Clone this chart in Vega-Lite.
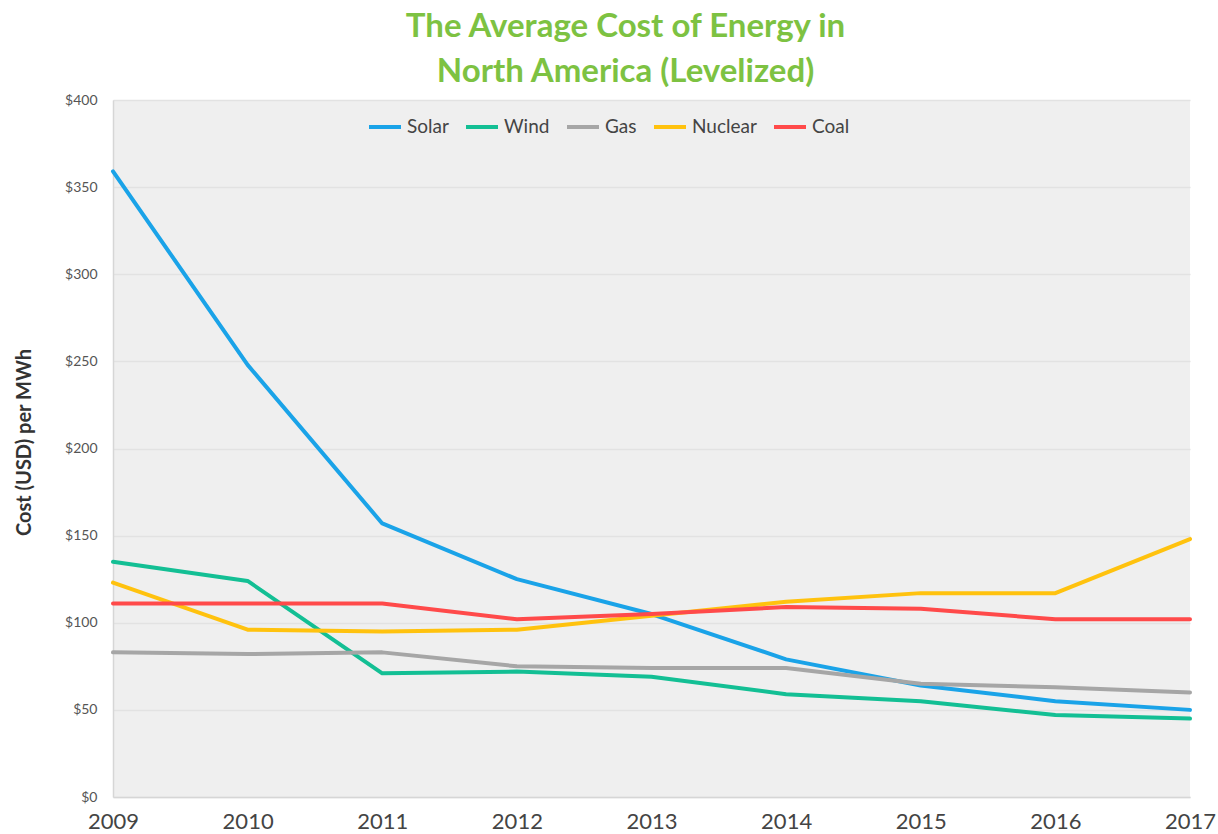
{
  "$schema": "https://vega.github.io/schema/vega-lite/v6.json",
  "width": 1077,
  "height": 697,
  "autosize": {"type": "none"},
  "padding": {"left": 113, "top": 100, "right": 28, "bottom": 37},
  "background": "white",
  "config": {
    "view": {"fill": "#efefef", "stroke": null},
    "font": "Lato"
  },
  "title": {
    "text": ["The Average Cost of Energy in", "North America (Levelized)"],
    "color": "#7dc242",
    "font": "Lato",
    "fontSize": 33,
    "fontWeight": "bold",
    "lineHeight": 45,
    "anchor": "middle",
    "dx": -26,
    "offset": 4
  },
  "data": {
    "values": [
      {"year": 2009, "source": "Solar", "cost": 359},
      {"year": 2010, "source": "Solar", "cost": 248},
      {"year": 2011, "source": "Solar", "cost": 157},
      {"year": 2012, "source": "Solar", "cost": 125},
      {"year": 2013, "source": "Solar", "cost": 105},
      {"year": 2014, "source": "Solar", "cost": 79},
      {"year": 2015, "source": "Solar", "cost": 64},
      {"year": 2016, "source": "Solar", "cost": 55},
      {"year": 2017, "source": "Solar", "cost": 50},
      {"year": 2009, "source": "Wind", "cost": 135},
      {"year": 2010, "source": "Wind", "cost": 124},
      {"year": 2011, "source": "Wind", "cost": 71},
      {"year": 2012, "source": "Wind", "cost": 72},
      {"year": 2013, "source": "Wind", "cost": 69},
      {"year": 2014, "source": "Wind", "cost": 59},
      {"year": 2015, "source": "Wind", "cost": 55},
      {"year": 2016, "source": "Wind", "cost": 47},
      {"year": 2017, "source": "Wind", "cost": 45},
      {"year": 2009, "source": "Gas", "cost": 83},
      {"year": 2010, "source": "Gas", "cost": 82},
      {"year": 2011, "source": "Gas", "cost": 83},
      {"year": 2012, "source": "Gas", "cost": 75},
      {"year": 2013, "source": "Gas", "cost": 74},
      {"year": 2014, "source": "Gas", "cost": 74},
      {"year": 2015, "source": "Gas", "cost": 65},
      {"year": 2016, "source": "Gas", "cost": 63},
      {"year": 2017, "source": "Gas", "cost": 60},
      {"year": 2009, "source": "Nuclear", "cost": 123},
      {"year": 2010, "source": "Nuclear", "cost": 96},
      {"year": 2011, "source": "Nuclear", "cost": 95},
      {"year": 2012, "source": "Nuclear", "cost": 96},
      {"year": 2013, "source": "Nuclear", "cost": 104},
      {"year": 2014, "source": "Nuclear", "cost": 112},
      {"year": 2015, "source": "Nuclear", "cost": 117},
      {"year": 2016, "source": "Nuclear", "cost": 117},
      {"year": 2017, "source": "Nuclear", "cost": 148},
      {"year": 2009, "source": "Coal", "cost": 111},
      {"year": 2010, "source": "Coal", "cost": 111},
      {"year": 2011, "source": "Coal", "cost": 111},
      {"year": 2012, "source": "Coal", "cost": 102},
      {"year": 2013, "source": "Coal", "cost": 105},
      {"year": 2014, "source": "Coal", "cost": 109},
      {"year": 2015, "source": "Coal", "cost": 108},
      {"year": 2016, "source": "Coal", "cost": 102},
      {"year": 2017, "source": "Coal", "cost": 102}
    ]
  },
  "mark": {"type": "line", "strokeCap": "round", "strokeJoin": "round"},
  "encoding": {
    "x": {
      "field": "year",
      "type": "quantitative",
      "scale": {"domain": [2009, 2017], "nice": false, "zero": false},
      "axis": {
        "title": null,
        "values": [2009, 2010, 2011, 2012, 2013, 2014, 2015, 2016, 2017],
        "format": "d",
        "grid": false,
        "ticks": false,
        "labelFlush": false,
        "labelFontSize": 22,
        "labelColor": "#444444",
        "labelPadding": 14,
        "domainColor": "#d6d6d6",
        "domainWidth": 1.5
      }
    },
    "y": {
      "field": "cost",
      "type": "quantitative",
      "scale": {"domain": [0, 400], "nice": false},
      "axis": {
        "title": "Cost (USD) per MWh",
        "titleFontSize": 20,
        "titleFontWeight": "bold",
        "titleColor": "#333333",
        "titlePadding": 30,
        "titleY": 342,
        "values": [0, 50, 100, 150, 200, 250, 300, 350, 400],
        "format": "$d",
        "ticks": false,
        "labelFontSize": 14,
        "labelColor": "#555555",
        "labelPadding": 16,
        "gridColor": "#e2e2e2",
        "gridWidth": 1.5,
        "domainColor": "#d6d6d6",
        "domainWidth": 1.5
      }
    },
    "color": {
      "field": "source",
      "type": "nominal",
      "sort": ["Solar", "Wind", "Gas", "Nuclear", "Coal"],
      "scale": {
        "domain": ["Solar", "Wind", "Gas", "Nuclear", "Coal"],
        "range": ["#1aa3e8", "#13bf94", "#a6a6a6", "#ffc20e", "#ff4a4a"]
      },
      "legend": {
        "title": null,
        "orient": "none",
        "direction": "horizontal",
        "legendX": 254,
        "legendY": 9,
        "symbolType": "stroke",
        "symbolSize": 1024,
        "symbolStrokeWidth": 4,
        "labelFontSize": 19,
        "labelColor": "#444444",
        "labelOffset": 4,
        "columnPadding": 9
      }
    },
    "strokeWidth": {
      "field": "source",
      "type": "nominal",
      "scale": {
        "domain": ["Solar", "Wind", "Gas", "Nuclear", "Coal"],
        "range": [4, 4, 2.5, 2.5, 2.5]
      },
      "legend": null
    },
    "order": {"field": "year", "type": "quantitative"}
  }
}
